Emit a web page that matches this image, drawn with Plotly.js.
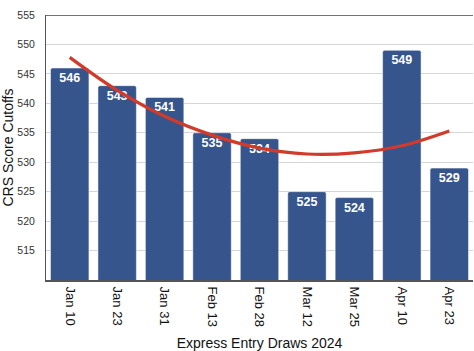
<!DOCTYPE html>
<html><head><meta charset="utf-8">
<script src="https://cdn.plot.ly/plotly-3.0.1.min.js"></script>
<style>html,body{margin:0;padding:0;background:#fff}#chart{width:474px;height:351px}</style>
</head><body><div id="chart"></div>
<script>
var categories = ["Jan 10","Jan 23","Jan 31","Feb 13","Feb 28","Mar 12","Mar 25","Apr 10","Apr 23"];
var scores = [546,543,541,535,534,525,524,549,529];
var trendValues = [547.8,542.2,537.8,534.6,532.4,531.4,531.6,532.8,535.3];
var yTicks = [515,520,525,530,535,540,545,550,555];

var bars = {
  type: 'bar', x: categories, y: scores,
  marker: {color: '#36558c', cornerradius: 2, line: {color: '#ffffff', width: 0.5}},
  text: scores.map(String), textposition: 'inside', insidetextanchor: 'end',
  textfont: {family: 'Liberation Sans, Arial, sans-serif', size: 12.5, color: '#ffffff', weight: 'bold'},
  textangle: 0, cliponaxis: true, hoverinfo: 'skip'
};
var trend = {
  type: 'scatter', mode: 'lines', x: categories, y: trendValues,
  line: {color: '#d23a2a', width: 3.2, shape: 'spline'}, hoverinfo: 'skip'
};
var layout = {
  width: 474, height: 351,
  margin: {l: 46, r: 1, t: 15, b: 71},
  showlegend: false, bargap: 0.19,
  paper_bgcolor: '#ffffff', plot_bgcolor: '#ffffff',
  font: {family: 'Liberation Sans, Arial, sans-serif', color: '#222'},
  xaxis: {
    type: 'category', tickangle: 90, ticks: '', showgrid: false,
    showline: true, linecolor: '#555', linewidth: 2,
    tickfont: {size: 13, color: '#111'}, ticklabelstandoff: 2,
    title: {text: 'Express Entry Draws 2024', font: {size: 14, color: '#111'}, standoff: 12}
  },
  yaxis: {
    range: [510, 555], tickvals: yTicks, ticktext: yTicks.map(String),
    showgrid: true, gridcolor: '#d6d6d6', gridwidth: 1,
    showline: true, linecolor: '#555', linewidth: 1, mirror: false,
    ticks: '', tickfont: {size: 10.5, color: '#333'}, zeroline: false,
    ticklabelstandoff: 8,
    title: {text: 'CRS Score Cutoffs', font: {size: 14, color: '#111'}, standoff: 6}
  },
  shapes: [{type: 'line', xref: 'paper', yref: 'y', x0: 0, x1: 1, y0: 555, y1: 555,
            line: {color: '#444', width: 1.5}}]
};
Plotly.newPlot('chart', [bars, trend], layout, {staticPlot: true, displayModeBar: false});
</script></body></html>
